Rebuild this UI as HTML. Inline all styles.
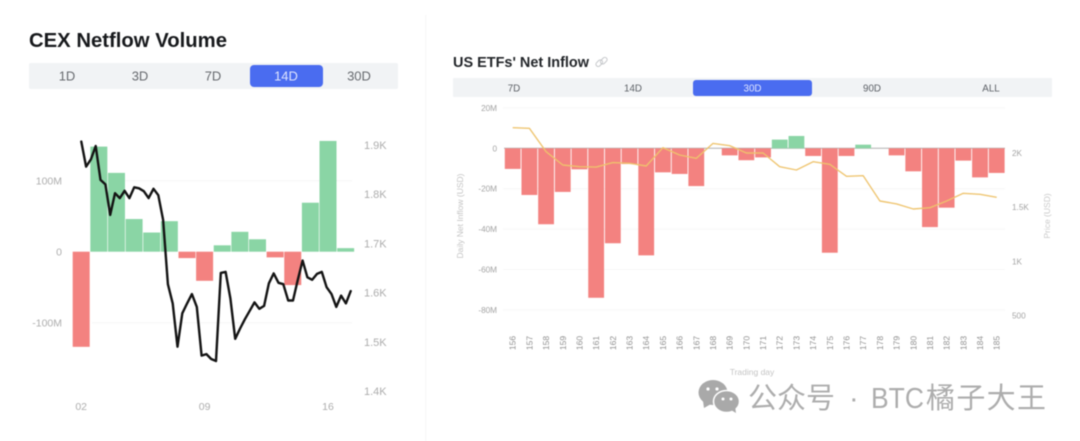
<!DOCTYPE html>
<html lang="en">
<head>
<meta charset="utf-8">
<title>CEX Netflow Volume and US ETFs' Net Inflow</title>
<style>
html,body{margin:0;padding:0;background:#fff;width:1080px;height:441px;overflow:hidden}
svg{display:block;position:absolute;left:0;top:0;font-family:"Liberation Sans","Noto Sans CJK SC",sans-serif}
.soft{filter:blur(0.5px)}
</style>
</head>
<body>
<svg id="chart" class="soft" width="1080" height="441" viewBox="0 0 1080 441" xmlns="http://www.w3.org/2000/svg">
  <rect x="425" y="15" width="1.5" height="426" fill="#f8f8f8"/>

  <text x="29" y="47" font-size="20" font-weight="700" fill="#17191c" textLength="198" lengthAdjust="spacingAndGlyphs">CEX Netflow Volume</text>
  <rect x="29" y="63" width="369" height="26" rx="2" fill="#f1f3f5"/>
  <rect x="250" y="65" width="73" height="22" rx="4" fill="#4a6cf0"/>
  <g font-size="13" text-anchor="middle" fill="#66696e">
    <text x="67" y="80.5">1D</text>
    <text x="140" y="80.5">3D</text>
    <text x="213" y="80.5">7D</text>
    <text x="286" y="80.5" fill="#dfe5ff">14D</text>
    <text x="359" y="80.5">30D</text>
  </g>
  <g id="cex-plot"></g>

  <text x="453" y="67" font-size="14.5" font-weight="700" fill="#23262a" textLength="136" lengthAdjust="spacingAndGlyphs">US ETFs' Net Inflow</text>
  <g fill="none" stroke="#c4c6c9" stroke-width="1">
    <rect x="595.5" y="61" width="7.5" height="4.5" rx="2.2" transform="rotate(-45 599.2 63.2)"/>
    <rect x="600" y="58.5" width="7.5" height="4.5" rx="2.2" transform="rotate(-45 603.7 60.7)"/>
  </g>
  <rect x="453" y="78" width="599" height="19" rx="1" fill="#f1f3f5"/>
  <rect x="693" y="80" width="119" height="16" rx="3" fill="#4a6cf0"/>
  <g font-size="9.8" text-anchor="middle" fill="#5d6167">
    <text x="514" y="91.5">7D</text>
    <text x="633" y="91.5">14D</text>
    <text x="752.5" y="91.5" fill="#dfe5ff">30D</text>
    <text x="872" y="91.5">90D</text>
    <text x="991" y="91.5">ALL</text>
  </g>
  <g id="etf-plot"></g>
  <text transform="translate(463 216) rotate(-90)" font-size="8.5" text-anchor="middle" fill="#c4c4c4">Daily Net Inflow (USD)</text>
  <text transform="translate(1050 216) rotate(-90)" font-size="8.5" text-anchor="middle" fill="#c9c9c9">Price (USD)</text>
  <text x="752" y="375" font-size="8.5" text-anchor="middle" fill="#c4c4c4">Trading day</text>

  <g>
    <ellipse cx="713" cy="392.5" rx="14.5" ry="12.5" fill="#a9a9a9"/>
    <path d="M703 401 L704 408 L711 404 Z" fill="#a9a9a9"/>
    <ellipse cx="726.5" cy="401.5" rx="13" ry="11" fill="#a9a9a9" stroke="#fff" stroke-width="1.5"/>
    <path d="M731 410 L736 413 L735 406 Z" fill="#a9a9a9"/>
    <circle cx="708" cy="389" r="1.6" fill="#fff"/>
    <circle cx="717" cy="389" r="1.6" fill="#fff"/>
    <circle cx="723" cy="399" r="1.5" fill="#fff"/>
    <circle cx="731" cy="399" r="1.5" fill="#fff"/>
  </g>
  <g font-size="29" fill="#adadad">
    <text x="748" y="408">公众号</text>
    <text x="849" y="408">·</text>
    <text x="871" y="408" textLength="53" lengthAdjust="spacingAndGlyphs">BTC</text>
    <text x="926" y="408" textLength="120" lengthAdjust="spacing">橘子大王</text>
  </g>
</svg>

<script>
const cexDays = ['02','03','04','05','06','07','08','09','10','11','12','13','14','15','16','17'];
const cexNetflow = [-134,148,111,46,27,43,-9,-41,9,28,17.5,-8,-47,69,156,5];
const cexPrice = [1907,1856,1871,1898,1829,1820,1758,1802,1792,1807,1792,1814,1812,1806,1792,1811,1798,1748,1617,1578,1490,1558,1578,1597,1571,1472,1475,1465,1461,1640,1642,1588,1506,1527,1546,1563,1580,1567,1573,1619,1639,1620,1617,1584,1584,1626,1665,1631,1626,1638,1642,1611,1597,1571,1594,1578,1603];
const cexFlowTicks = [100,0,-100];
const cexFlowTickLabels = ['100M','0','-100M'];
const cexPriceTicks = [1900,1800,1700,1600,1500,1400];
const cexPriceTickLabels = ['1.9K','1.8K','1.7K','1.6K','1.5K','1.4K'];
const cexDayTicks = ['02','09','16'];

const etfDays = [156,157,158,159,160,161,162,163,164,165,166,167,168,169,170,171,172,173,174,175,176,177,178,179,180,181,182,183,184,185];
const etfInflow = [-10.2,-23.1,-37.6,-21.6,-10.4,-74,-47,-7.8,-53,-11.9,-12.7,-18.7,0,-3.5,-5.9,-4.5,4.3,6.1,-3.8,-51.7,-3.8,1.8,0,-3.5,-11.4,-39,-29.4,-6.1,-14.4,-12.2];
const etfPrice = [2233,2228,2012,1889,1874,1870,1911,1905,1880,2049,1982,1951,2089,2067,2000,2000,1874,1843,1920,1896,1785,1791,1557,1530,1483,1495,1557,1628,1619,1591];
const etfFlowTicks = [20,0,-20,-40,-60,-80];
const etfFlowTickLabels = ['20M','0','-20M','-40M','-60M','-80M'];
const etfPriceTicks = [2000,1500,1000,500];
const etfPriceTickLabels = ['2K','1.5K','1K','500'];

const NS = 'http://www.w3.org/2000/svg';
function mk(parent, tag, attrs, txt) {
  const el = document.createElementNS(NS, tag);
  for (const k in attrs) el.setAttribute(k, attrs[k]);
  if (txt !== undefined) el.textContent = txt;
  parent.appendChild(el);
  return el;
}

const RED = '#f38280';
const GREEN = '#8ad5a5';

/* CEX axis functions */
const cexY = v => 251.7 - v * 0.71;
const cexPY = p => 145 + (1900 - p) * 0.492;
const cexBandX = i => 72.7 + i * 17.63;
const cexLineX = i => 81.3 + i * (269.4 / (cexPrice.length - 1));

const cex = document.getElementById('cex-plot');

cexFlowTicks.forEach((t, i) => {
  if (t !== 0) {
    const g = mk(cex, 'line', {x1: 92, x2: 352, y1: cexY(t), y2: cexY(t), stroke: '#f5f5f5', 'stroke-width': 1});
    
    
  }
  const l = mk(cex, 'text', {x: 62, y: cexY(t) + 4, 'font-size': 10.5, 'text-anchor': 'end', fill: '#adadad'}, cexFlowTickLabels[i]);
  
  
});

cexPriceTicks.forEach((t, i) => {
  const l = mk(cex, 'text', {x: 364, y: cexPY(t) + 4, 'font-size': 11, fill: '#adadad'}, cexPriceTickLabels[i]);
  
  
});

cexDays.forEach((d, i) => {
  const v = cexNetflow[i];
  const r = mk(cex, 'rect', {x: cexBandX(i), width: 17, y: Math.min(cexY(v), cexY(0)), height: Math.abs(cexY(v) - cexY(0)), fill: v >= 0 ? GREEN : RED});
  
  
  if (cexDayTicks.includes(d)) {
    const l = mk(cex, 'text', {x: cexBandX(i) + 8.5, y: 410, 'font-size': 10.5, 'text-anchor': 'middle', fill: '#adadad'}, d);
    
    
  }
});

const cexLine = mk(cex, 'polyline', {
  points: cexPrice.map((p, i) => cexLineX(i).toFixed(1) + ',' + cexPY(p).toFixed(1)).join(' '),
  fill: 'none', stroke: '#141414', 'stroke-width': 2.4, 'stroke-linejoin': 'round', 'stroke-linecap': 'round'
});



/* ETF axis functions */
const etfY = v => 148.3 - v * 2.02;
const etfPY = p => 153 + (2000 - p) * 0.1084;
const etfX = i => 512.7 + i * 16.69;

const etf = document.getElementById('etf-plot');

etfFlowTicks.forEach((t, i) => {
  if (t !== 0) {
    const g = mk(etf, 'line', {x1: 503, x2: 1005, y1: etfY(t), y2: etfY(t), stroke: '#f7f7f7', 'stroke-width': 1});
    
    
  }
  const l = mk(etf, 'text', {x: 497, y: etfY(t) + 3, 'font-size': 8.2, 'text-anchor': 'end', fill: '#a3a3a3'}, etfFlowTickLabels[i]);
  
  
});

etfPriceTicks.forEach((t, i) => {
  const l = mk(etf, 'text', {x: 1012, y: etfPY(t) + 3, 'font-size': 8.2, fill: '#a3a3a3'}, etfPriceTickLabels[i]);
  
  
});

const zero = mk(etf, 'line', {x1: 504, x2: 1005, y1: etfY(0), y2: etfY(0), stroke: '#b0b0b0', 'stroke-width': 1});



etfDays.forEach((d, i) => {
  const v = etfInflow[i];
  if (v !== 0) {
    const r = mk(etf, 'rect', {x: etfX(i) - 7.9, width: 15.8, y: Math.min(etfY(v), etfY(0)), height: Math.abs(etfY(v) - etfY(0)), fill: v >= 0 ? GREEN : RED});
    
    
  }
  const l = mk(etf, 'text', {transform: 'translate(' + (etfX(i) + 3) + ' 343) rotate(-90)', 'font-size': 8.5, 'text-anchor': 'middle', fill: '#8f8f8f'}, d);
  
  
});

const etfLine = mk(etf, 'polyline', {
  points: etfPrice.map((p, i) => etfX(i).toFixed(1) + ',' + etfPY(p).toFixed(1)).join(' '),
  fill: 'none', stroke: '#eec36c', 'stroke-width': 1.4, 'stroke-linejoin': 'round', 'stroke-opacity': 0.95
});


</script>
</body>
</html>
